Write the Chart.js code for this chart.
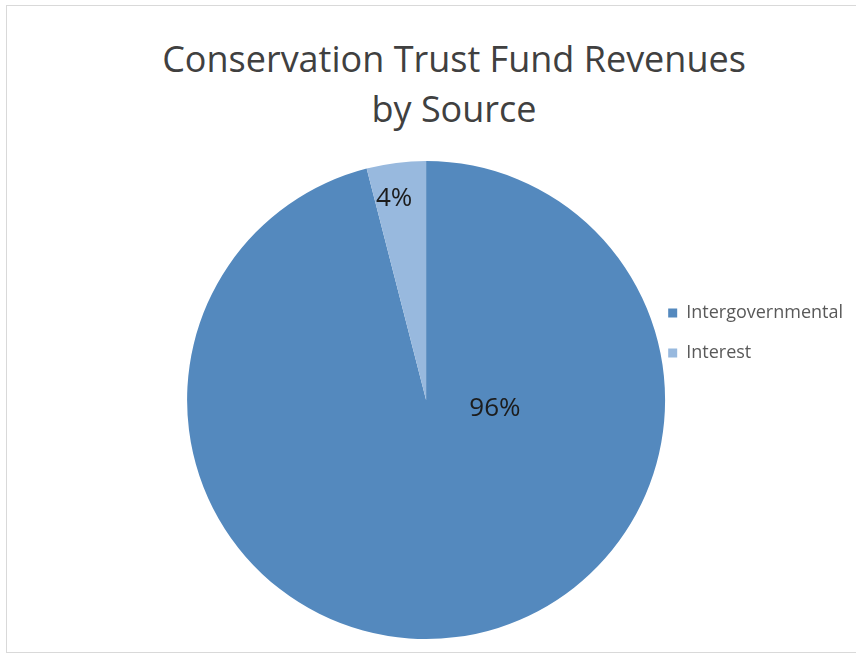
<!DOCTYPE html>
<html lang="en">
<head>
<meta charset="UTF-8">
<title>Conservation Trust Fund Revenues by Source</title>
<script src="https://cdn.jsdelivr.net/npm/chart.js"></script>
<style>
    html, body {
        margin: 0;
        padding: 0;
        background: #ffffff;
        overflow: hidden;
    }

    .chart-frame {
        position: absolute;
        left: 6px;
        top: 5px;
        width: 896px;
        height: 646px;
        border: 1px solid #d9d9d9;
    }

    .chart-title {
        position: absolute;
        left: 7px;
        top: 34px;
        width: 894px;
        margin: 0;
        text-align: center;
        font-family: 'Open Sans', sans-serif;
        font-weight: normal;
        font-size: 36px;
        line-height: 50px;
        color: #404040;
    }

    #revenueChart {
        position: absolute;
        left: 0;
        top: 0;
    }
</style>
</head>
<body>
<div class="chart-frame"></div>
<h1 class="chart-title">Conservation Trust Fund Revenues<br>by Source</h1>
<canvas id="revenueChart" width="856" height="655"></canvas>

<script>
    // Revenue shares by source (percent)
    const sources = ['Intergovernmental', 'Interest'];
    const shares = [96, 4];
    const sliceColors = ['#5489be', '#98b9de'];

    // Percent labels written on each slice
    const sliceLabels = {
        id: 'sliceLabels',
        afterDatasetsDraw(chart, args, opts) {
            const ctx = chart.ctx;
            const meta = chart.getDatasetMeta(0);
            const total = shares.reduce((a, b) => a + b, 0);
            ctx.save();
            ctx.font = opts.font;
            ctx.fillStyle = opts.color;
            ctx.textAlign = 'center';
            ctx.textBaseline = 'middle';
            meta.data.forEach((arc, i) => {
                const p = arc.getProps(['x', 'y', 'startAngle', 'endAngle', 'outerRadius'], true);
                const spot = opts.spots[i];
                const angle = spot.angle !== undefined
                    ? spot.angle * Math.PI / 180
                    : (p.startAngle + p.endAngle) / 2;
                const r = p.outerRadius * spot.r;
                const pct = Math.round(shares[i] / total * 100) + '%';
                ctx.fillText(pct, p.x + Math.cos(angle) * r, p.y + Math.sin(angle) * r);
            });
            ctx.restore();
        }
    };

    const ctx = document.getElementById('revenueChart').getContext('2d');

    new Chart(ctx, {
        type: 'pie',
        data: {
            labels: sources,
            datasets: [{
                data: shares,
                backgroundColor: sliceColors,
                borderWidth: 0,
                radius: 239
            }]
        },
        options: {
            responsive: false,
            animation: false,
            // the chart area is kept small so the legend sits beside the upper half;
            // the pie itself is given a fixed radius
            layout: {
                padding: { left: 206, right: 3, top: 282, bottom: 137 }
            },
            plugins: {
                legend: {
                    position: 'right',
                    align: 'start',
                    labels: {
                        boxWidth: 9,
                        boxHeight: 9,
                        padding: 22,
                        color: '#595959',
                        font: { family: 'Open Sans', size: 18 }
                    }
                },
                tooltip: { enabled: false },
                sliceLabels: {
                    font: '26px "Open Sans"',
                    color: '#1c1c1c',
                    spots: [{ angle: 7, r: 0.29 }, { angle: 261, r: 0.855 }]
                }
            }
        },
        plugins: [sliceLabels]
    });
</script>
</body>
</html>
